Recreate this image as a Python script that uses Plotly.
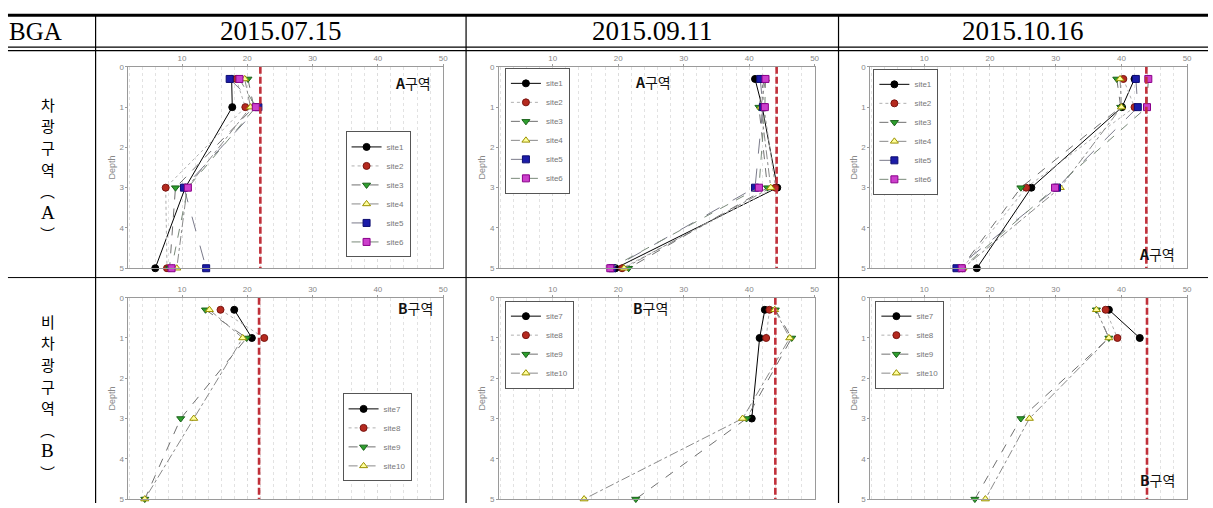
import plotly.graph_objects as go

W, H = 1213, 508

# ---------------- data ----------------
dates = ["2015.07.15", "2015.09.11", "2015.10.16"]
header_left = "BGA"
row_label_A = "차광구역(A)"
row_label_B = "비차광구역(B)"
zone_label_A = "구역"
zone_label_B = "구역"
x_ticks = [10, 20, 30, 40, 50]
y_ticks = [0, 1, 2, 3, 4, 5]
depths = [0.3, 1, 3, 5]

sites_A = ["site1", "site2", "site3", "site4", "site5", "site6"]
sites_B = ["site7", "site8", "site9", "site10"]

# 2015.07.15, zone A
jul_A_site1 = [17.6, 17.7, 10.5, 5.9]
jul_A_site2 = [18.3, 19.7, 7.5, 7.7]
jul_A_site3 = [20.1, 21.0, 9.0, 8.1]
jul_A_site4 = [19.6, 20.5, 10.8, 9.2]
jul_A_site5 = [17.3, 21.7, 10.3, 13.7]
jul_A_site6 = [18.8, 21.3, 10.9, 8.4]
# 2015.09.11, zone A
sep_A_site1 = [40.9, 42.0, 44.3, 19.6]
sep_A_site2 = [42.0, 42.3, 44.0, 20.6]
sep_A_site3 = [42.3, 41.5, 42.8, 21.6]
sep_A_site4 = [42.5, 41.8, 43.3, 20.9]
sep_A_site5 = [41.7, 42.1, 40.9, 19.1]
sep_A_site6 = [42.5, 42.4, 41.5, 18.8]
# 2015.10.16, zone A
oct_A_site1 = [42.0, 40.1, 26.3, 18.0]
oct_A_site2 = [40.3, 42.0, 25.5, 15.8]
oct_A_site3 = [39.3, 39.9, 24.7, 15.6]
oct_A_site4 = [39.8, 40.0, 30.7, 15.9]
oct_A_site5 = [42.2, 42.5, 30.2, 14.9]
oct_A_site6 = [44.1, 43.9, 29.9, 15.7]
# 2015.07.15, zone B
jul_B_site7 = [18.0, 20.7]
jul_B_site8 = [15.9, 22.6]
jul_B_site9 = [13.6, 19.9, 9.8, 4.3]
jul_B_site10 = [14.2, 19.3, 11.8, 4.3]
# 2015.09.11, zone B
sep_B_site7 = [42.4, 41.6, 40.4]
sep_B_site8 = [43.1, 42.6]
sep_B_site9 = [44.0, 46.5, 39.6, 22.7]
sep_B_site10 = [43.9, 46.2, 39.0, 14.8]
# 2015.10.16, zone B
oct_B_site7 = [38.1, 42.8]
oct_B_site8 = [37.6, 39.4]
oct_B_site9 = [36.2, 38.1, 24.7, 17.7]
oct_B_site10 = [36.2, 38.1, 26.0, 19.3]

# reference (red dashed) values per panel
ref_A = [22.0, 44.2, 43.8]
ref_B = [21.8, 44.0, 43.9]

panels = [
    [[jul_A_site1, jul_A_site2, jul_A_site3, jul_A_site4, jul_A_site5, jul_A_site6],
     [sep_A_site1, sep_A_site2, sep_A_site3, sep_A_site4, sep_A_site5, sep_A_site6],
     [oct_A_site1, oct_A_site2, oct_A_site3, oct_A_site4, oct_A_site5, oct_A_site6]],
    [[jul_B_site7, jul_B_site8, jul_B_site9, jul_B_site10],
     [sep_B_site7, sep_B_site8, sep_B_site9, sep_B_site10],
     [oct_B_site7, oct_B_site8, oct_B_site9, oct_B_site10]],
]
panel_sites = [sites_A, sites_B]
panel_refs = [ref_A, ref_B]
zone_letters = ["A", "B"]
zone_words = [zone_label_A, zone_label_B]

# ---------------- styles ----------------
style = {
    "site1": dict(sym="circle", fill="#000000", edge="#000000", lc="#000000", dash="solid"),
    "site2": dict(sym="circle", fill="#b52a1f", edge="#7a1410", lc="#b0b0b0", dash="dot"),
    "site3": dict(sym="triangle-down", fill="#2ea02e", edge="#1a601a", lc="#707070", dash="dash"),
    "site4": dict(sym="triangle-up", fill="#ffff9a", edge="#9a9000", lc="#8a8a8a", dash="dashdot"),
    "site5": dict(sym="square", fill="#1c1ca8", edge="#0c0c70", lc="#7a7a8a", dash="longdash"),
    "site6": dict(sym="square", fill="#cc3fcc", edge="#8a008a", lc="#7a8a7a", dash="dash"),
}
style["site7"] = style["site1"]
style["site8"] = style["site2"]
style["site9"] = style["site3"]
style["site10"] = style["site4"]

col_px = [(129, 445), (501, 818), (874, 1192)]
row_px = [(64, 269), (299, 504)]
# (x, y, yanchor)
legend_pos = [[(347, 258, "bottom"), (507, 65, "top"), (877, 66, "top")],
              [(344, 486, "bottom"), (507, 302, "top"), (879, 302, "top")]]
zone_pos = [[(415, 80), (656, 79), (1162, 254)], [(417, 309), (653, 309), (1162, 485)]]


def px(x):
    return x / W


def py(y):
    return 1 - y / H


fig = go.Figure()
layout = dict(
    width=W, height=H, margin=dict(l=0, r=0, t=0, b=0),
    paper_bgcolor="white", plot_bgcolor="white",
    font=dict(family="Liberation Sans, Arial", color="#777777"),
    shapes=[], annotations=[],
)

idx = 0
for r in range(2):
    for c in range(3):
        idx += 1
        sfx = "" if idx == 1 else str(idx)
        xa, ya = "x" + sfx, "y" + sfx
        leg = "legend" + sfx
        for site, vals in zip(panel_sites[r], panels[r][c]):
            st = style[site]
            fig.add_trace(go.Scatter(
                x=vals, y=depths[:len(vals)], name=site, mode="lines+markers",
                xaxis=xa, yaxis=ya, legend=leg, cliponaxis=False,
                line=dict(color=st["lc"], width=1, dash=st["dash"]),
                marker=dict(symbol=st["sym"], size=7, color=st["fill"],
                            line=dict(color=st["edge"], width=1)),
            ))
        # red dashed reference line
        fig.add_trace(go.Scatter(
            x=[panel_refs[r][c]] * 2, y=[y_ticks[0], y_ticks[-1]], mode="lines",
            xaxis=xa, yaxis=ya, showlegend=False, cliponaxis=False,
            line=dict(color="#c0303a", width=2.6, dash="7px,3px"),
        ))
        x0, x1 = col_px[c]
        y0, y1 = row_px[r]
        layout["xaxis" + sfx] = dict(
            domain=[px(x0), px(x1)], anchor=ya, side="top", range=[1.8, 50],
            tickvals=x_ticks, tickfont=dict(size=8, color="#888"),
            showgrid=True, gridcolor="#dcdcdc", griddash="dot", gridwidth=1,
            minor=dict(dtick=2, tick0=0, showgrid=True, gridcolor="#e2e2e2",
                       griddash="dot", gridwidth=1),
            showline=True, linecolor="#9a9a9a", linewidth=1, mirror=True,
            ticks="outside", ticklen=2, tickcolor="#9a9a9a", zeroline=False,
        )
        layout["yaxis" + sfx] = dict(
            domain=[py(y1), py(y0)], anchor=xa, range=[5, 0],
            tickvals=y_ticks, tickfont=dict(size=8, color="#888"),
            showgrid=False, showline=True, linecolor="#9a9a9a", linewidth=1,
            mirror=True, ticks="outside", ticklen=2, tickcolor="#9a9a9a",
            zeroline=False,
            title=dict(text="Depth", font=dict(size=9, color="#888"), standoff=2),
        )
        lx, ly, lanc = legend_pos[r][c]
        layout[leg] = dict(
            x=px(lx), y=py(ly), xanchor="left", yanchor=lanc,
            bgcolor="white", bordercolor="#555", borderwidth=1,
            font=dict(size=8, color="#777"), tracegroupgap=0,
        )
        zx, zy = zone_pos[r][c]
        layout["annotations"].append(dict(
            x=px(zx), y=py(zy), xref="paper", yref="paper", showarrow=False,
            xanchor="center", yanchor="middle",
            text="<b>" + zone_letters[r] + "</b>" + zone_words[r],
            font=dict(family="Noto Sans CJK KR", size=14, color="#111"),
        ))

# ---------------- table frame ----------------
def hline(y, x0, x1, w):
    layout["shapes"].append(dict(type="line", xref="paper", yref="paper",
                                 x0=px(x0), x1=px(x1), y0=py(y), y1=py(y),
                                 line=dict(color="black", width=w)))


def vline(x, y0, y1, w):
    layout["shapes"].append(dict(type="line", xref="paper", yref="paper",
                                 x0=px(x), x1=px(x), y0=py(y0), y1=py(y1),
                                 line=dict(color="black", width=w)))


hline(11.5, 8, W, 3)
hline(44, 8, W, 1.3)
hline(47.5, 8, W, 1.3)
hline(278.5, 8, W, 1)
for xv in (96, 468, 842):
    vline(xv, 11, H, 1.2)

# header texts
layout["annotations"].append(dict(
    x=px(36), y=py(28), xref="paper", yref="paper", showarrow=False,
    xanchor="center", yanchor="middle",
    text=header_left, font=dict(family="Liberation Serif", size=25, color="black")))
for c, d in enumerate(dates):
    cx = [282, 655, 1027][c]
    layout["annotations"].append(dict(
        x=px(cx), y=py(27), xref="paper", yref="paper", showarrow=False,
        xanchor="center", yanchor="middle",
        text=d, font=dict(family="Liberation Serif", size=27, color="black")))

# vertical row labels (one character per line, vertical-form parentheses)
vert = {"(": "︵", ")": "︶"}
for label, ystart in ((row_label_A, 102), (row_label_B, 323)):
    for i, ch in enumerate(label):
        if ch.isascii() and ch.isalpha():
            fnt = dict(family="Liberation Serif", size=19, color="black")
        else:
            fnt = dict(family="Noto Sans CJK KR", size=15, color="black")
        layout["annotations"].append(dict(
            x=px(48), y=py(ystart + i * 22), xref="paper", yref="paper",
            showarrow=False, xanchor="center", yanchor="middle",
            text=vert.get(ch, ch), font=fnt))

fig.update_layout(**layout)
fig.write_html("out.html", config={"displayModeBar": False},
               post_script="document.body.style.margin='0';document.body.style.overflow='hidden';")
